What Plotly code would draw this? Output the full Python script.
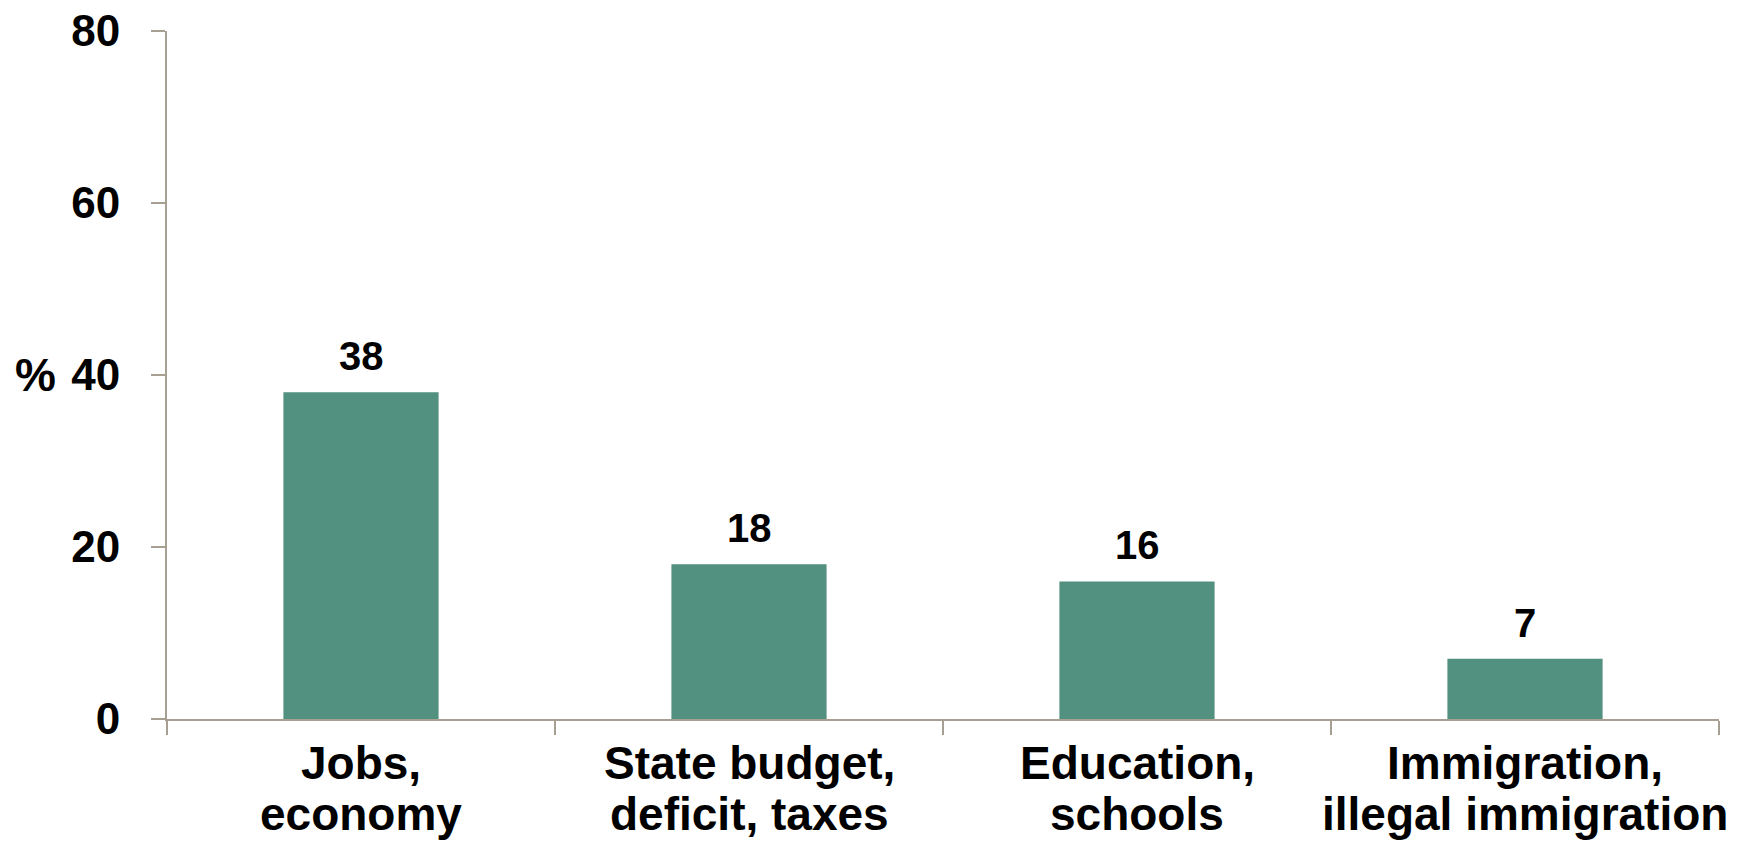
import plotly.graph_objects as go

categories = ["Jobs, economy", "State budget, deficit, taxes", "Education, schools", "Immigration, illegal immigration"]
label_line1 = ["Jobs,", "State budget,", "Education,", "Immigration,"]
label_line2 = ["economy", "deficit, taxes", "schools", "illegal immigration"]
values = [38, 18, 16, 7]
y_ticks = [0, 20, 40, 60, 80]

BAR = "#52917F"
AXIS = "#A79F91"
FONT = "Liberation Sans, Arial, sans-serif"

fig = go.Figure()
fig.add_trace(go.Bar(x=categories, y=values, marker=dict(color=BAR, line=dict(width=0)), width=0.4))

ann = []
for c, v in zip(categories, values):
    ann.append(dict(x=c, y=v, xref="x", yref="y", text=str(v), showarrow=False,
                    yanchor="bottom", xanchor="center", yshift=12,
                    font=dict(family=FONT, size=40, color="black", weight="bold")))
for c, l1, l2 in zip(categories, label_line1, label_line2):
    ann.append(dict(x=c, y=0, xref="x", yref="y", text=l1, showarrow=False,
                    yanchor="top", xanchor="center", yshift=-16,
                    font=dict(family=FONT, size=46, color="black", weight="bold")))
    ann.append(dict(x=c, y=0, xref="x", yref="y", text=l2, showarrow=False,
                    yanchor="top", xanchor="center", yshift=-67,
                    font=dict(family=FONT, size=46, color="black", weight="bold")))
ann.append(dict(x=0, y=40, xref="paper", yref="y", text="%", showarrow=False,
                xanchor="right", yanchor="middle", xshift=-109,
                font=dict(family=FONT, size=46, color="black", weight="bold")))

fig.update_layout(
    width=1751, height=841,
    margin=dict(l=167, r=32, t=31, b=122, autoexpand=False),
    plot_bgcolor="white", paper_bgcolor="white",
    showlegend=False,
    annotations=ann,
    xaxis=dict(type="category", range=[-0.5, 3.5], showgrid=False, zeroline=False,
               automargin=False,
               showline=True, linecolor=AXIS, linewidth=2,
               ticks="outside", tickson="boundaries", ticklen=14, tickcolor=AXIS, tickwidth=2,
               showticklabels=False),
    yaxis=dict(range=[0, 80], tickvals=y_ticks, showgrid=False, zeroline=False,
               automargin=False,
               showline=True, linecolor=AXIS, linewidth=2,
               ticks="outside", ticklen=14, tickcolor=AXIS, tickwidth=2,
               ticklabelstandoff=22,
               tickfont=dict(family=FONT, size=44, color="black", weight="bold")),
)

fig.write_html("out.html", config={"displayModeBar": False},
               post_script="document.body.style.margin='0';document.body.style.overflow='hidden';document.documentElement.style.overflow='hidden';")
